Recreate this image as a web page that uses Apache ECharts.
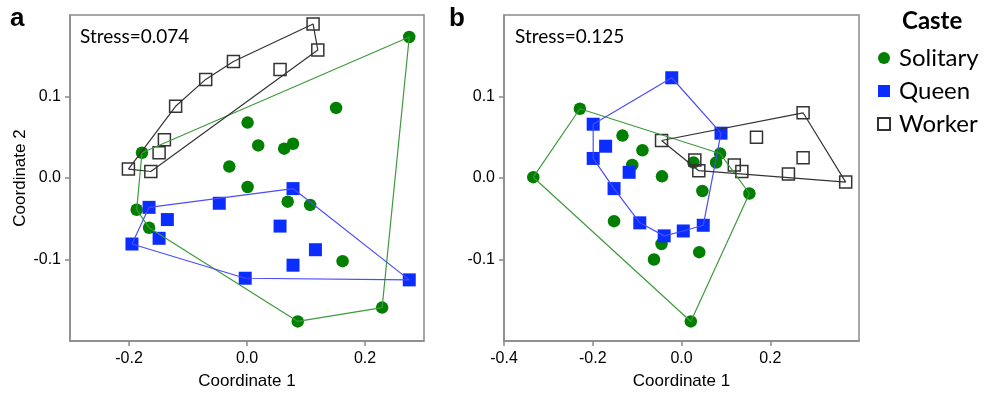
<!DOCTYPE html>
<html>
<head>
<meta charset="utf-8">
<script src="https://cdn.jsdelivr.net/npm/echarts@6/dist/echarts.min.js"></script>
<style>
  html, body { margin: 0; background: #fff; }
  #chart { width: 989px; height: 395px; }
</style>
</head>
<body>
<div id="chart"></div>
<script>
// castes shown in the legend
const casteNames = ["Solitary", "Queen", "Worker"];

// panel a (stress 0.074)
const solitaryA = [[0.275,0.173],[0.151,0.086],[0.001,0.068],[0.019,0.040],[0.063,0.036],[0.078,0.042],
  [-0.030,0.014],[0.001,-0.011],[-0.178,0.031],[-0.187,-0.039],[-0.166,-0.061],[0.107,-0.033],
  [0.069,-0.029],[0.162,-0.102],[0.229,-0.159],[0.086,-0.176]];
const queenA = [[-0.166,-0.036],[-0.047,-0.031],[-0.135,-0.051],[-0.149,-0.074],[-0.195,-0.081],
  [-0.003,-0.123],[0.078,-0.013],[0.056,-0.059],[0.116,-0.088],[0.078,-0.107],[0.275,-0.125]];
const workerA = [[0.112,0.189],[0.120,0.157],[0.056,0.133],[-0.023,0.143],[-0.070,0.121],
  [-0.121,0.088],[-0.140,0.047],[-0.149,0.031],[-0.201,0.011],[-0.163,0.008]];

// panel b (stress 0.125)
const solitaryB = [[-0.229,0.085],[-0.133,0.052],[-0.088,0.034],[-0.111,0.016],[-0.044,0.002],
  [-0.334,0.001],[-0.152,-0.053],[-0.045,-0.081],[-0.062,-0.100],[0.021,-0.176],[0.047,-0.016],
  [0.153,-0.019],[0.040,-0.091],[0.087,0.030],[0.078,0.019],[0.027,0.019]];
const queenB = [[-0.022,0.123],[-0.199,0.066],[-0.171,0.039],[-0.199,0.024],[-0.118,0.007],
  [-0.152,-0.013],[-0.094,-0.055],[-0.039,-0.071],[0.004,-0.065],[0.049,-0.058],[0.089,0.055]];
const workerB = [[-0.045,0.046],[0.274,0.080],[0.169,0.050],[0.274,0.025],[0.030,0.022],
  [0.039,0.009],[0.119,0.016],[0.136,0.008],[0.241,0.005],[0.370,-0.005]];

const stressLabels = ["Stress=0.074", "Stress=0.125"];
const xTicksA = [-0.2, 0, 0.2];
const xTicksB = [-0.4, -0.2, 0, 0.2];
const yTicks = [-0.1, 0, 0.1];

// convex hull (monotone chain), returned closed
function hull(pts) {
  const p = pts.slice().sort((a, b) => a[0] - b[0] || a[1] - b[1]);
  const cross = (o, a, b) => (a[0] - o[0]) * (b[1] - o[1]) - (a[1] - o[1]) * (b[0] - o[0]);
  const lower = [], upper = [];
  for (const q of p) {
    while (lower.length >= 2 && cross(lower[lower.length - 2], lower[lower.length - 1], q) <= 0) lower.pop();
    lower.push(q);
  }
  for (let i = p.length - 1; i >= 0; i--) {
    const q = p[i];
    while (upper.length >= 2 && cross(upper[upper.length - 2], upper[upper.length - 1], q) <= 0) upper.pop();
    upper.push(q);
  }
  upper.pop(); lower.pop();
  const h = lower.concat(upper);
  h.push(h[0]);
  return h;
}

const chart = echarts.init(document.getElementById("chart"));

const font = "Liberation Sans, Arial, sans-serif";
const textFont = "Lato, sans-serif";
const boxColor = "#8a8a8a";

const styles = {
  Solitary: { symbol: "circle", size: 12.5, item: { color: "#007f00", opacity: 1 }, line: "#3d9b3d" },
  Queen: { symbol: "rect", size: 13, item: { color: "#0a2eff", opacity: 1 }, line: "#4b4bff" },
  Worker: { symbol: "rect", size: 12, item: { color: "rgba(0,0,0,0)", borderColor: "#333", borderWidth: 1.5, opacity: 1 }, line: "#333" }
};

const panels = [
  { Solitary: solitaryA, Queen: queenA, Worker: workerA },
  { Solitary: solitaryB, Queen: queenB, Worker: workerB }
];

const series = [];
panels.forEach((pan, i) => {
  casteNames.forEach(name => {
    const s = styles[name];
    series.push({
      type: "scatter", name: name, xAxisIndex: i, yAxisIndex: i,
      data: pan[name], symbol: s.symbol, symbolSize: s.size, itemStyle: s.item
    });
  });
  casteNames.forEach(name => {
    series.push({
      type: "line", name: name + " hull", xAxisIndex: i, yAxisIndex: i,
      data: hull(pan[name]), symbol: "none", silent: true,
      lineStyle: { color: styles[name].line, width: 1.2 }
    });
  });
});

function xAxis(idx, min, max, ticks) {
  return {
    type: "value", gridIndex: idx, min: min, max: max,
    name: "Coordinate 1", nameLocation: "middle", nameGap: 32,
    nameTextStyle: { fontFamily: font, fontSize: 17, color: "#000" },
    splitLine: { show: false },
    axisLine: { show: true, onZero: false, lineStyle: { color: boxColor, width: 1.5 } },
    axisTick: { show: true, length: 5, customValues: ticks, lineStyle: { color: boxColor, width: 1.5 } },
    axisLabel: { customValues: ticks, margin: 10, fontFamily: font, fontSize: 16, color: "#000",
      formatter: v => v.toFixed(1) }
  };
}
function yAxis(idx, withName) {
  return {
    type: "value", gridIndex: idx, min: -0.2, max: 0.2,
    name: withName ? "Coordinate 2" : "", nameLocation: "middle", nameGap: 41,
    nameTextStyle: { fontFamily: font, fontSize: 17, color: "#000" },
    splitLine: { show: false },
    axisLine: { show: true, onZero: false, lineStyle: { color: boxColor, width: 1.5 } },
    axisTick: { show: true, length: 5, customValues: yTicks, lineStyle: { color: boxColor, width: 1.5 } },
    axisLabel: { customValues: yTicks, margin: 9, fontFamily: font, fontSize: 16, color: "#000",
      formatter: v => v.toFixed(1) }
  };
}

const option = {
  animation: false,
  grid: [
    { left: 70, top: 15, width: 354, height: 329, show: true, borderColor: boxColor, borderWidth: 1.5 },
    { left: 504, top: 15, width: 355, height: 329, show: true, borderColor: boxColor, borderWidth: 1.5 }
  ],
  xAxis: [xAxis(0, -0.3, 0.3, xTicksA), xAxis(1, -0.4, 0.4, xTicksB)],
  yAxis: [yAxis(0, true), yAxis(1, false)],
  legend: {
    data: casteNames, orient: "vertical", left: 877, top: 46, padding: 0,
    itemWidth: 12, itemHeight: 12, itemGap: 9,
    textStyle: { fontFamily: textFont, fontSize: 24, color: "#000", padding: [0, 0, 0, 4] }
  },
  graphic: [
    { type: "text", left: 10, top: 6, style: { text: "a", fontFamily: font, fontSize: 26, fontWeight: "bold", fill: "#000" } },
    { type: "text", left: 449, top: 6, style: { text: "b", fontFamily: font, fontSize: 26, fontWeight: "bold", fill: "#000" } },
    { type: "text", left: 80, top: 27, style: { text: stressLabels[0], fontFamily: textFont, fontSize: 19, fill: "#000" } },
    { type: "text", left: 515, top: 27, style: { text: stressLabels[1], fontFamily: textFont, fontSize: 19, fill: "#000" } },
    { type: "text", left: 902, top: 9, style: { text: "Caste", fontFamily: textFont, fontSize: 24, fontWeight: "bold", fill: "#000" } }
  ],
  series: series
};
chart.setOption(option);
</script>
</body>
</html>
